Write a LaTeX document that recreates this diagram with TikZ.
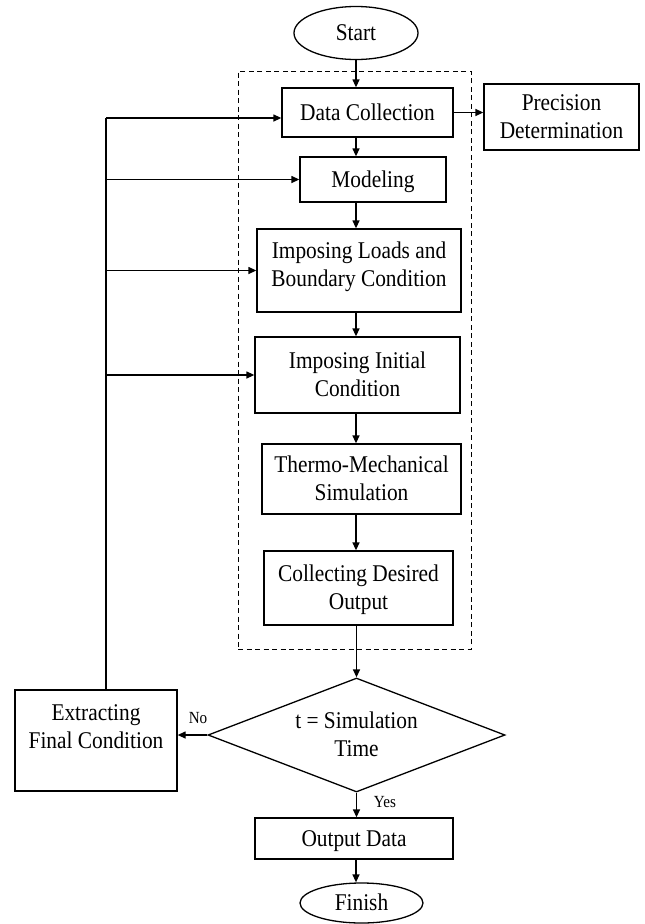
\documentclass[tikz,border=0pt]{standalone}
\usepackage{fontspec}
\setmainfont{Liberation Serif}
\usetikzlibrary{shapes.geometric,arrows.meta}
\newcommand\tx[1]{\raisebox{0pt}[\height][\dimexpr\depth-4.6pt\relax]{\scalebox{0.89}[1]{\begin{tabular}{@{}c@{}}#1\end{tabular}}}}
\begin{document}
\begin{tikzpicture}[x=1pt,y=-1pt,
  every node/.style={font=\fontsize{24}{28}\selectfont, align=center, inner sep=0pt},
  box/.style={draw, line width=1.3pt, rectangle},
  term/.style={draw, line width=1.3pt, ellipse},
  arr/.style={line width=1.3pt, -{Triangle[length=8pt,width=7pt]}},
  plain/.style={line width=1.3pt},
  small/.style={font=\fontsize{17}{20}\selectfont}]
\useasboundingbox (0,0) rectangle (645,924);
\node[draw, line width=0.9pt, dash pattern=on 5pt off 3.5pt, minimum width=233pt, minimum height=578pt] (grp) at (354.5,360) {};
\node[term, minimum width=124pt, minimum height=53pt] (start) at (356,33) {\tx{Start}};
\node[box, minimum width=171pt, minimum height=49pt] (dc) at (367.5,112.5) {\tx{Data Collection}};
\node[box, minimum width=155pt, minimum height=66pt] (prec) at (561.5,117) {\tx{Precision\\Determination}};
\node[box, minimum width=146pt, minimum height=45pt] (mod) at (373,179.5) {\tx{Modeling}};
\node[box, minimum width=204pt, minimum height=83pt] (loads) at (359,270.5) {};
\node (loadst) at (359,265) {\tx{Imposing Loads and\\Boundary Condition}};
\node[box, minimum width=205pt, minimum height=76pt] (init) at (357.5,375) {\tx{Imposing Initial\\Condition}};
\node[box, minimum width=199pt, minimum height=70pt] (thermo) at (361.5,479) {\tx{Thermo-Mechanical\\Simulation}};
\node[box, minimum width=189pt, minimum height=74pt] (coll) at (358.5,588) {\tx{Collecting Desired\\Output}};
\node[draw, diamond, line width=1.3pt, aspect=2.6, minimum width=297pt, minimum height=114pt] (dec) at (356.5,735) {\tx{t = Simulation\\Time}};
\node[box, minimum width=162pt, minimum height=101pt] (ext) at (96,740.5) {};
\node (extt) at (96,727) {\tx{Extracting\\Final Condition}};
\node[box, minimum width=198pt, minimum height=41pt] (out) at (354,838.5) {\tx{Output Data}};
\node[term, minimum width=123pt, minimum height=40pt] (fin) at (361.5,903) {\tx{Finish}};
\node[small] (no) at (198,717) {\tx{No}};
\node[small] (yes) at (385,801) {\tx{Yes}};
\coordinate (sp) at (356,0);
\coordinate (lt) at (106,118);
\draw[arr] (start.south -| sp) -- (dc.north -| sp);
\draw[arr] (dc.south -| sp) -- (mod.north -| sp);
\draw[arr] (mod.south -| sp) -- (loads.north -| sp);
\draw[arr] (loads.south -| sp) -- (init.north -| sp);
\draw[arr] (init.south -| sp) -- (thermo.north -| sp);
\draw[arr] (thermo.south -| sp) -- (coll.north -| sp);
\draw[arr] (coll.south -| dec.north) -- (dec.north);
\draw[arr] (dec.south) -- (out.north -| dec.south);
\draw[arr] (out.south -| sp) -- (fin.north -| sp);
\draw[arr] (dc.east) -- (dc.east -| prec.west);
\draw[arr] (dec.west) -- (dec.west -| ext.east);
\draw[plain] (ext.north -| lt) -- (lt);
\draw[arr] (lt) -- (lt -| dc.west);
\draw[arr] (lt |- mod.west) -- (mod.west);
\draw[arr] (lt |- loads.west) -- (loads.west);
\draw[arr] (lt |- init.west) -- (init.west);
\end{tikzpicture}
\end{document}
